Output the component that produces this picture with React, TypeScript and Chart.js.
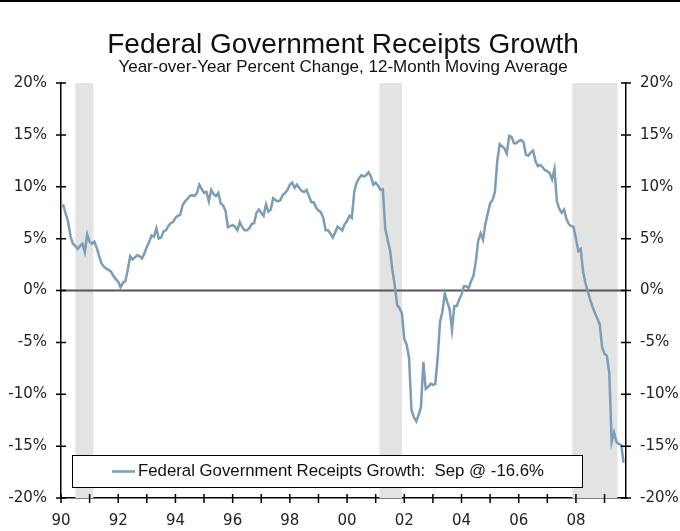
import React, { useEffect, useRef } from "react";
import { Chart, registerables } from "chart.js";

Chart.register(...registerables);

const startYear = 1990;
const titleText = "Federal Government Receipts Growth";
const subtitleText = "Year-over-Year Percent Change, 12-Month Moving Average";
const legendText = "Federal Government Receipts Growth:  Sep @ -16.6%";

// monthly values, Jan 1990 .. Sep 2009 (percent)
const growth1990s = [
  8.1, 8.2, 7.4, 6.6, 5.2, 4.5, 4.3, 4.0, 4.3, 4.5, 3.7, 5.4,
  4.7, 4.5, 4.7, 4.1, 3.3, 2.6, 2.3, 2.1, 2.0, 1.8, 1.4, 1.1,
  0.85, 0.3, 0.75, 0.9, 2.0, 3.3, 3.0, 3.2, 3.4, 3.3, 3.1, 3.6,
  4.2, 4.7, 5.3, 5.2, 6.0, 5.0, 5.1, 5.7, 5.8, 6.2, 6.5, 6.6,
  7.0, 7.2, 7.3, 8.2, 8.6, 8.8, 9.1, 9.2, 9.1, 9.4, 10.2, 9.8,
  9.4, 9.5, 8.6, 9.7, 9.3, 9.1, 9.4, 8.4, 8.2, 7.7, 6.1, 6.2,
  6.3, 6.15, 5.8, 6.6, 6.1, 5.8, 5.8, 6.0, 6.4, 6.5, 7.5, 7.8,
  7.5, 7.2, 8.3, 7.6, 7.8, 8.9, 8.7, 8.6, 8.7, 9.2, 9.4, 9.7,
  10.2, 10.4, 9.9, 10.2, 9.85, 9.6, 9.5, 9.7, 9.1, 8.5, 8.5, 8.0,
  7.7, 7.55, 7.0, 5.8, 5.8, 5.5, 5.1, 5.6, 6.15, 6.0, 5.8, 6.4,
];
const growth2000s = [
  6.7, 7.2, 7.0, 9.5, 10.4, 10.8, 11.1, 11.0, 11.1, 11.4, 11.0, 10.2,
  10.4, 10.1, 9.7, 9.75, 6.0, 4.9, 3.9, 2.0, 0.5, -1.4, -1.7, -2.2,
  -4.7, -5.25, -6.5, -11.5, -12.2, -12.6, -12.0, -11.2, -6.9, -9.5, -9.3, -9.0,
  -9.1, -9.0, -6.5, -3.0, -2.0, -0.3, -1.1, -1.8, -3.8, -1.5, -1.5, -0.9,
  -0.4, 0.4, 0.4, 0.2, 0.9, 1.4, 2.8, 4.8, 5.5, 4.9, 6.4, 7.4,
  8.4, 8.7, 9.5, 12.5, 14.1, 13.9, 13.7, 13.2, 14.9, 14.8, 14.2, 14.2,
  14.4, 14.5, 14.3, 13.1, 13.0, 13.3, 13.5, 12.5, 12.0, 12.1, 11.9, 11.6,
  11.5, 11.3, 10.7, 11.7, 8.6, 7.9, 7.5, 7.8, 6.9, 6.4, 6.2, 6.15,
  5.0, 3.8, 4.0, 1.8, 0.7, -0.1, -0.9, -1.6, -2.2, -2.7, -3.3, -5.5,
  -6.1, -6.3, -8.0, -14.6, -13.7, -14.6, -14.8, -14.9, -16.6,
];
const receiptsGrowth = [...growth1990s, ...growth2000s];

const recessionStarts = [1990.5, 2001.13, 2007.87];
const recessionEnds = [1991.13, 2001.92, 2009.45];

const yTicks = [-20, -15, -10, -5, 0, 5, 10, 15, 20];
const xMin = 1990;
const xMax = 2009.75;

const LINE_COLOR = "#7b9db6";
const TICK_FONT = { family: "'DejaVu Sans', Verdana, sans-serif", size: 15 };

export default function App() {
  const ref = useRef<HTMLCanvasElement | null>(null);

  useEffect(() => {
    document.body.style.margin = "0";
    const canvas = ref.current;
    if (!canvas) return;

    const points = receiptsGrowth.map((v, i) => ({ x: startYear + i / 12, y: v }));

    const decor = {
      id: "decor",
      beforeDatasetsDraw(chart: any) {
        const { ctx, chartArea, scales } = chart;
        const xs = scales.x;
        const ys = scales.y;
        ctx.save();
        ctx.fillStyle = "#e3e3e3";
        recessionStarts.forEach((s, i) => {
          const x1 = xs.getPixelForValue(s);
          const x2 = xs.getPixelForValue(recessionEnds[i]);
          ctx.fillRect(x1, chartArea.top, x2 - x1, chartArea.bottom - chartArea.top);
        });
        const y0 = ys.getPixelForValue(0);
        ctx.strokeStyle = "#555";
        ctx.lineWidth = 2;
        ctx.beginPath();
        ctx.moveTo(chartArea.left, y0);
        ctx.lineTo(chartArea.right, y0);
        ctx.stroke();
        ctx.restore();
      },
      afterDraw(chart: any) {
        const { ctx, chartArea, scales, width } = chart;
        const xs = scales.x;
        const ys = scales.y;
        ctx.save();
        // top bar
        ctx.fillStyle = "#000";
        ctx.fillRect(0, 0, width, 2);
        // titles
        ctx.fillStyle = "#111";
        ctx.textAlign = "center";
        ctx.textBaseline = "alphabetic";
        ctx.font = "28px 'Liberation Sans', Arial, sans-serif";
        ctx.fillText(titleText, 343, 53);
        ctx.font = "17px 'Liberation Sans', Arial, sans-serif";
        ctx.fillText(subtitleText, 343, 72);
        // cross ticks
        ctx.strokeStyle = "#000";
        ctx.lineWidth = 1.5;
        ctx.beginPath();
        yTicks.forEach((t) => {
          const y = ys.getPixelForValue(t);
          ctx.moveTo(chartArea.left - 5, y);
          ctx.lineTo(chartArea.left + 5, y);
          ctx.moveTo(chartArea.right - 5, y);
          ctx.lineTo(chartArea.right + 5, y);
        });
        for (let yr = xMin; yr <= Math.floor(xMax); yr++) {
          const x = xs.getPixelForValue(yr);
          ctx.moveTo(x, chartArea.bottom - 4);
          ctx.lineTo(x, chartArea.bottom + 5);
        }
        ctx.stroke();
        // legend box
        const lx = chartArea.left + 11;
        const ly = chartArea.bottom - 43;
        const lw = 510;
        const lh = 32;
        ctx.fillStyle = "#fff";
        ctx.fillRect(lx, ly, lw, lh);
        ctx.strokeStyle = "#000";
        ctx.lineWidth = 1;
        ctx.strokeRect(lx + 0.5, ly + 0.5, lw, lh);
        const my = ly + lh / 2 + 0.5;
        ctx.strokeStyle = LINE_COLOR;
        ctx.lineWidth = 2.5;
        ctx.beginPath();
        ctx.moveTo(lx + 40, my);
        ctx.lineTo(lx + 63, my);
        ctx.stroke();
        ctx.fillStyle = "#111";
        ctx.textAlign = "left";
        ctx.textBaseline = "middle";
        ctx.font = "16.8px 'Liberation Sans', Arial, sans-serif";
        ctx.fillText(legendText, lx + 66, my);
        ctx.restore();
      },
    };

    const yAxisCommon = {
      min: -20,
      max: 20,
      grid: { display: true, drawOnChartArea: false, drawTicks: false },
      border: { display: true, color: "#000", width: 1.5 },
      ticks: {
        stepSize: 5,
        color: "#222",
        font: TICK_FONT,
        padding: 14,
        callback: (v: any) => `${v}%`,
      },
    };

    const chart = new Chart(canvas, {
      type: "line",
      data: {
        datasets: [
          {
            label: legendText,
            data: points,
            borderColor: LINE_COLOR,
            borderWidth: 2.5,
            pointRadius: 0,
            tension: 0,
            fill: false,
          },
        ],
      },
      options: {
        animation: false,
        responsive: false,
        maintainAspectRatio: false,
        layout: { padding: { top: 83, left: 0, right: 0, bottom: 0 } },
        plugins: {
          legend: { display: false },
          title: { display: false },
          tooltip: { enabled: false },
        },
        scales: {
          x: {
            type: "linear",
            min: xMin,
            max: xMax,
            afterFit: (s: any) => {
              s.height = 33;
            },
            grid: { display: true, drawOnChartArea: false, drawTicks: false },
            border: { display: true, color: "#000", width: 1.5 },
            ticks: {
              stepSize: 1,
              autoSkip: false,
              includeBounds: false,
              maxRotation: 0,
              color: "#222",
              font: TICK_FONT,
              padding: 14,
              callback: (v: any) =>
                Number.isInteger(v) && v % 2 === 0 ? String(v).slice(2) : "",
            },
          },
          y: {
            ...yAxisCommon,
            position: "left",
            afterFit: (s: any) => {
              s.width = 61;
            },
          },
          y2: {
            ...yAxisCommon,
            position: "right",
            afterFit: (s: any) => {
              s.width = 54;
            },
          },
        },
      } as any,
      plugins: [decor],
    });

    return () => chart.destroy();
  }, []);

  return (
    <div style={{ width: 680, height: 531, background: "#fff" }}>
      <canvas ref={ref} width={680} height={531} style={{ display: "block" }} />
    </div>
  );
}
